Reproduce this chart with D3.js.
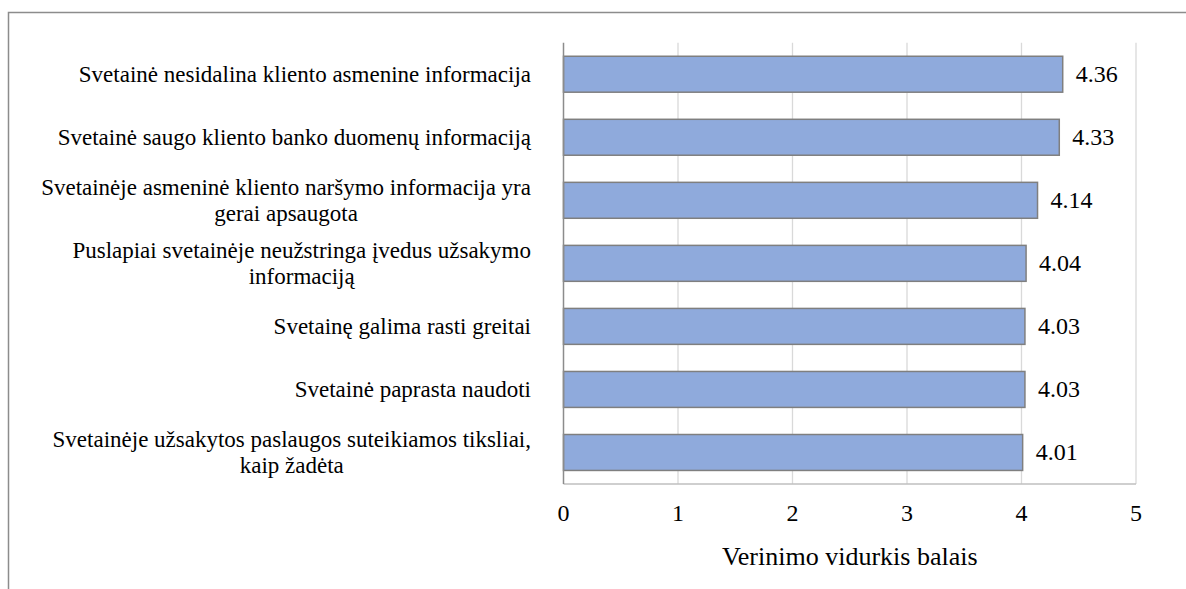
<!DOCTYPE html>
<html><head><meta charset="utf-8">
<script src="https://cdn.jsdelivr.net/npm/d3@7/dist/d3.min.js"></script>
</head><body style="margin:0">
<svg id="c" width="1186" height="589"></svg>
<script>
const categories = [
  ["Svetainė nesidalina kliento asmenine informacija"],
  ["Svetainė saugo kliento banko duomenų informaciją"],
  ["Svetainėje asmeninė kliento naršymo informacija yra", "gerai apsaugota"],
  ["Puslapiai svetainėje neužstringa įvedus užsakymo", "informaciją"],
  ["Svetainę galima rasti greitai"],
  ["Svetainė paprasta naudoti"],
  ["Svetainėje užsakytos paslaugos suteikiamos tiksliai,", "kaip žadėta"]
];
const values = [4.36, 4.33, 4.14, 4.04, 4.03, 4.03, 4.01];
const xTicks = [0, 1, 2, 3, 4, 5];
const axisTitle = "Verinimo vidurkis balais";

const FONT = '"Liberation Serif"';
const svg = d3.select("#c");
const L = 563.5, R = 1136, T = 42.7, B = 484;
const x = d3.scaleLinear().domain([0, 5]).range([L, R]);
const y = d3.scaleBand().domain(d3.range(categories.length)).range([T, B]).paddingInner(0.43).paddingOuter(0.215);

svg.append("path").attr("d", `M8.5,589 V12.5 H1186`).attr("fill", "none").attr("stroke", "#8c8c8c").attr("stroke-width", 1.5);

svg.append("g").selectAll("line").data(xTicks.slice(1)).join("line")
  .attr("x1", d => x(d)).attr("x2", d => x(d)).attr("y1", T).attr("y2", B)
  .attr("stroke", "#d9d9d9").attr("stroke-width", 1.3);

svg.append("line").attr("x1", L).attr("x2", R).attr("y1", B).attr("y2", B).attr("stroke", "#bfbfbf").attr("stroke-width", 1.3);

svg.append("g").selectAll("rect").data(values).join("rect")
  .attr("x", x(0)).attr("y", (d, i) => y(i)).attr("width", d => x(d) - x(0)).attr("height", y.bandwidth())
  .attr("fill", "#8faadc").attr("stroke", "#7f7f7f").attr("stroke-width", 1.5);

svg.append("line").attr("x1", L).attr("x2", L).attr("y1", T).attr("y2", B).attr("stroke", "#8c8c8c").attr("stroke-width", 1.5);

values.forEach((v, i) => {
  svg.append("text").attr("x", x(v) + 13).attr("y", y(i) + y.bandwidth() / 2 + 8)
    .attr("font-size", 24).style("font-family", FONT).text(v.toFixed(2));
});

xTicks.forEach(d => {
  svg.append("text").attr("x", x(d)).attr("y", 520.5).attr("text-anchor", "middle")
    .attr("font-size", 24).style("font-family", FONT).text(d);
});

const lh = 26;
categories.forEach((lines, i) => {
  const cy = y(i) + y.bandwidth() / 2;
  const n = lines.length;
  const nodes = lines.map((s, j) =>
    svg.append("text").attr("y", cy + (j - (n - 1) / 2) * lh + 7.5)
      .attr("font-size", 23).style("font-family", FONT).attr("text-anchor", "middle").text(s));
  const w = d3.max(nodes, t => t.node().getComputedTextLength());
  const center = 531 - w / 2;
  nodes.forEach(t => t.attr("x", center));
});

svg.append("text").attr("x", (L + R) / 2).attr("y", 565).attr("text-anchor", "middle")
  .attr("font-size", 26).style("font-family", FONT).text(axisTitle);
</script>
</body></html>
